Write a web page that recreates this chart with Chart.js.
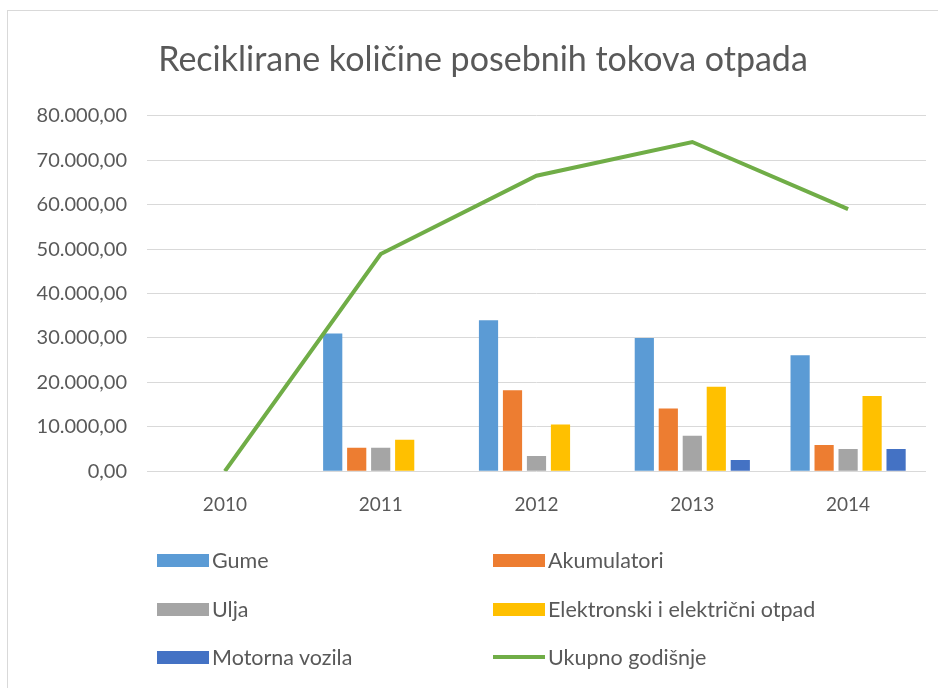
<!DOCTYPE html>
<html>
<head>
<meta charset="utf-8">
<script src="https://cdn.jsdelivr.net/npm/chart.js@4/dist/chart.umd.min.js"></script>
<style>
  html, body { margin: 0; padding: 0; background: #fff; }
  body { width: 938px; height: 688px; position: relative; overflow: hidden; font-family: Lato, "Open Sans", sans-serif; }
  #okvir { position: absolute; left: 7px; top: 10px; width: 931px; height: 678px; border-left: 1px solid #d9d9d9; border-top: 1px solid #d9d9d9; box-sizing: border-box; }
  #grafik { position: absolute; left: 8px; top: 11px; width: 930px; height: 677px; }
  #legenda { position: absolute; left: 0; top: 0; width: 938px; height: 688px; pointer-events: none; }
  .stavka { position: absolute; display: flex; align-items: center; height: 24px; color: #595959; font-size: 21.5px; }
  .kutija { width: 52px; height: 13px; margin-right: 3px; }
  .linija { width: 52px; height: 4px; margin-right: 3px; }
</style>
</head>
<body>
<div id="okvir"></div>
<div id="grafik"><canvas id="chartOtpad"></canvas></div>
<div id="legenda"></div>
<script>
// ===============================
// PODACI
// ===============================
const godine = ["2010", "2011", "2012", "2013", "2014"];
const gume = [0, 31000, 34000, 30000, 26100];
const akumulatori = [0, 5300, 18200, 14100, 5900];
const ulja = [0, 5300, 3400, 8000, 5000];
const elektronski = [0, 7100, 10500, 19000, 16900];
const motornaVozila = [0, 0, 0, 2500, 5000];
const ukupno = [0, 48900, 66500, 74100, 59000];
const yTicks = [0, 10000, 20000, 30000, 40000, 50000, 60000, 70000, 80000];

const naslov = "Reciklirane količine posebnih tokova otpada";
const sivaTekst = "#595959";

// format 80.000,00
function formatBroj(v) {
  const cijeli = Math.round(v).toString().replace(/\B(?=(\d{3})+(?!\d))/g, ".");
  return cijeli + ",00";
}

const serije = [
  { label: "Gume", data: gume, color: "#5B9BD5", type: "bar" },
  { label: "Akumulatori", data: akumulatori, color: "#ED7D31", type: "bar" },
  { label: "Ulja", data: ulja, color: "#A5A5A5", type: "bar" },
  { label: "Elektronski i električni otpad", data: elektronski, color: "#FFC000", type: "bar" },
  { label: "Motorna vozila", data: motornaVozila, color: "#4472C4", type: "bar" },
  { label: "Ukupno godišnje", data: ukupno, color: "#70AD47", type: "line" }
];

const datasets = serije.map(s => {
  if (s.type === "line") {
    return {
      type: "line",
      label: s.label,
      data: s.data,
      borderColor: s.color,
      backgroundColor: s.color,
      borderWidth: 4,
      pointRadius: 0,
      tension: 0,
      order: 0
    };
  }
  return {
    type: "bar",
    label: s.label,
    data: s.data,
    backgroundColor: s.color,
    borderWidth: 0,
    categoryPercentage: 0.77,
    barPercentage: 0.8,
    order: 1
  };
});

// naslov malo udesno (kao u originalu)
const pomakNaslova = {
  id: "pomakNaslova",
  afterLayout(chart) {
    if (chart.titleBlock) {
      chart.titleBlock.left += 16;
      chart.titleBlock.right += 16;
    }
  }
};

// ===============================
// GRAFIK
// ===============================
const ctx = document.getElementById("chartOtpad");

new Chart(ctx, {
  data: { labels: godine, datasets: datasets },
  plugins: [pomakNaslova],
  options: {
    responsive: true,
    maintainAspectRatio: false,
    animation: false,
    layout: { padding: { left: 0, right: 12, top: 0, bottom: 150 } },
    plugins: {
      legend: { display: false },
      tooltip: { enabled: false },
      title: {
        display: true,
        text: naslov,
        color: sivaTekst,
        font: { family: "Lato", size: 34, weight: "normal" },
        padding: { top: 29, bottom: 35 }
      }
    },
    scales: {
      x: {
        grid: { display: false, drawTicks: false },
        border: { display: false },
        ticks: { color: sivaTekst, font: { family: "Lato", size: 19 }, padding: 22 }
      },
      y: {
        min: 0,
        max: 80000,
        afterBuildTicks: s => { s.ticks = yTicks.map(v => ({ value: v })); },
        afterFit: s => { s.width = 139; },
        grid: { color: "#d9d9d9", lineWidth: 1, drawTicks: false },
        border: { display: false },
        ticks: {
          color: sivaTekst,
          font: { family: "Lato", size: 20 },
          padding: 20,
          callback: v => formatBroj(v)
        }
      }
    }
  }
});

// ===============================
// LEGENDA (dvije kolone)
// ===============================
const legenda = document.getElementById("legenda");
const koloneX = [157, 493];
const redoviY = [560, 609, 657];

serije.forEach((s, i) => {
  const div = document.createElement("div");
  div.className = "stavka";
  div.style.left = koloneX[i % 2] + "px";
  div.style.top = (redoviY[Math.floor(i / 2)] - 12) + "px";
  const znak = s.type === "line" ? "linija" : "kutija";
  div.innerHTML = `<span class="${znak}" style="background:${s.color}"></span><span>${s.label}</span>`;
  legenda.appendChild(div);
});
</script>
</body>
</html>
